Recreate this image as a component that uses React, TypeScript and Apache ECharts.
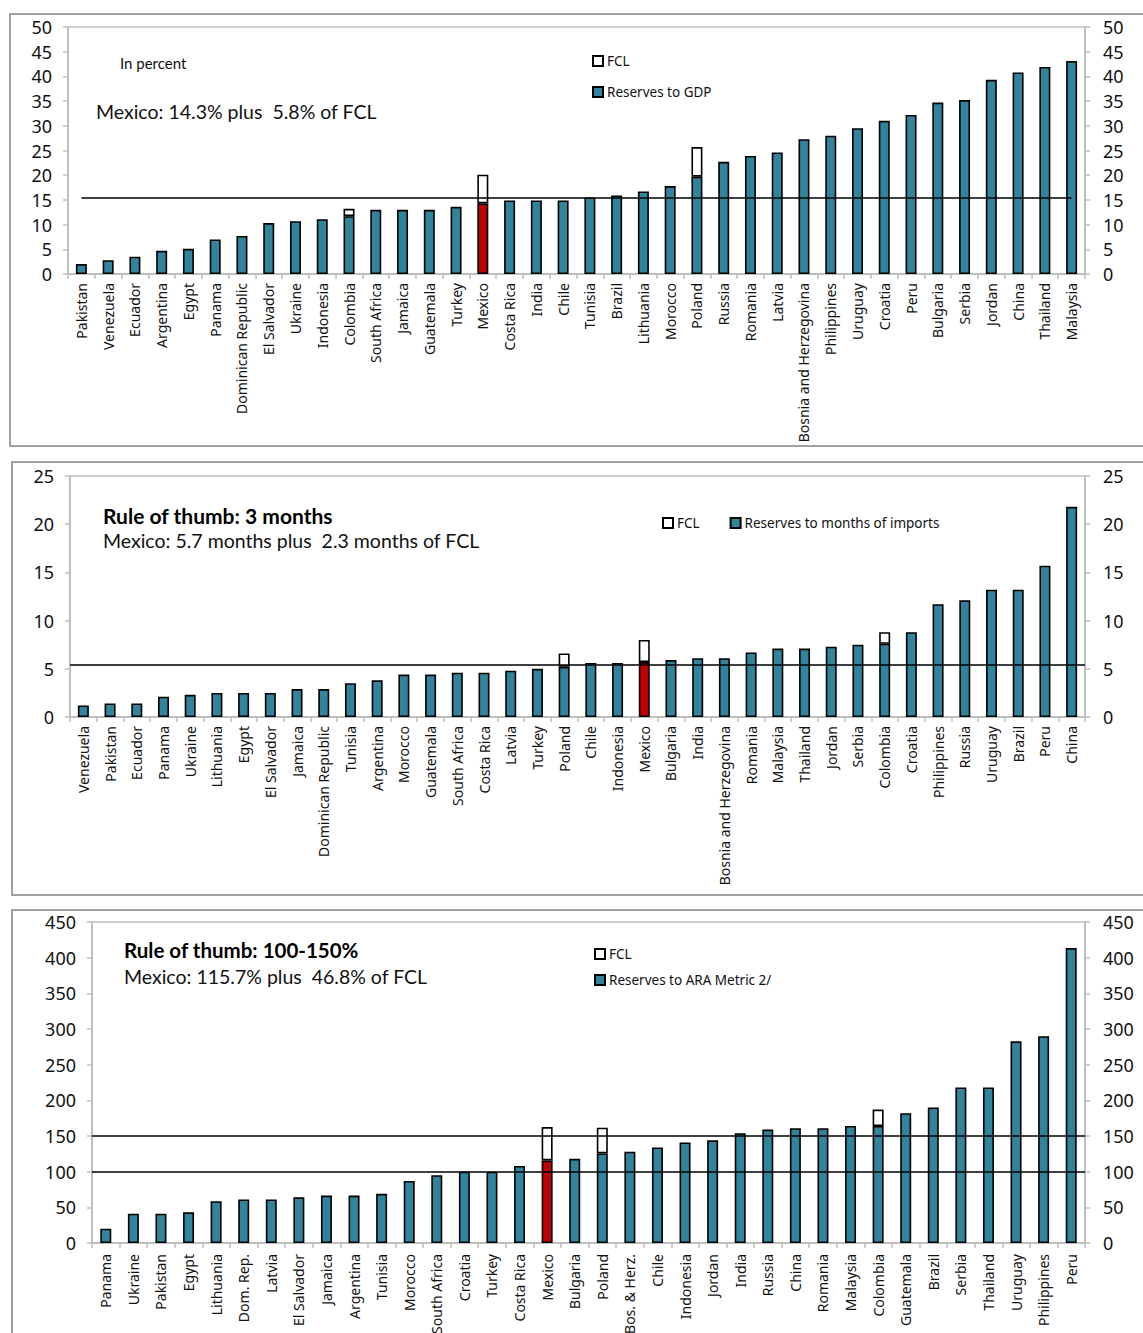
import React, { useEffect, useRef } from "react";
import * as echarts from "echarts";

// ---------- Panel 1: Reserves to GDP ----------
const gdpCountries = ["Pakistan","Venezuela","Ecuador","Argentina","Egypt","Panama","Dominican Republic","El Salvador","Ukraine","Indonesia","Colombia","South Africa","Jamaica","Guatemala","Turkey","Mexico","Costa Rica","India","Chile","Tunisia","Brazil","Lithuania","Morocco","Poland","Russia","Romania","Latvia","Bosnia and Herzegovina","Philippines","Uruguay","Croatia","Peru","Bulgaria","Serbia","Jordan","China","Thailand","Malaysia"];
const gdpReserves = [2.0,2.8,3.5,4.7,5.1,7.0,7.7,10.3,10.7,11.1,11.7,13.0,13.0,13.0,13.6,14.3,14.9,14.9,14.9,15.5,15.9,16.7,17.8,19.7,22.7,23.9,24.6,27.3,28.0,29.5,31.0,32.2,34.7,35.2,39.3,40.8,41.9,43.1];
const gdpFcl: [string, number][] = [["Colombia",1.5],["Mexico",5.8],["Poland",6.0]];
const gdpThreshold = 15.4;
const gdpTicks = { min: 0, max: 50, interval: 5 };

// ---------- Panel 2: Reserves to months of imports ----------
const impCountries = ["Venezuela","Pakistan","Ecuador","Panama","Ukraine","Lithuania","Egypt","El Salvador","Jamaica","Dominican Republic","Tunisia","Argentina","Morocco","Guatemala","South Africa","Costa Rica","Latvia","Turkey","Poland","Chile","Indonesia","Mexico","Bulgaria","India","Bosnia and Herzegovina","Romania","Malaysia","Thailand","Jordan","Serbia","Colombia","Croatia","Philippines","Russia","Uruguay","Brazil","Peru","China"];
const impReserves = [1.2,1.4,1.4,2.1,2.3,2.5,2.5,2.5,2.9,2.9,3.5,3.8,4.4,4.4,4.6,4.6,4.8,5.0,5.2,5.6,5.6,5.7,5.9,6.1,6.1,6.7,7.1,7.1,7.3,7.5,7.6,8.8,11.7,12.1,13.2,13.2,15.7,21.8];
const impFcl: [string, number][] = [["Poland",1.4],["Mexico",2.3],["Colombia",1.2]];
const impThreshold = 5.4;
const impTicks = { min: 0, max: 25, interval: 5 };

// ---------- Panel 3: Reserves to ARA metric ----------
const araCountries = ["Panama","Ukraine","Pakistan","Egypt","Lithuania","Dom. Rep.","Latvia","El Salvador","Jamaica","Argentina","Tunisia","Morocco","South Africa","Croatia","Turkey","Costa Rica","Mexico","Bulgaria","Poland","Bos. & Herz.","Chile","Indonesia","Jordan","India","Russia","China","Romania","Malaysia","Colombia","Guatemala","Brazil","Serbia","Thailand","Uruguay","Philippines","Peru"];
const araReserves = [20,41,41,43,58.6,61,61,64,66.5,66.5,69,87,95,100,100,108,115.7,118,125.6,128,134,141,144,154,159,161,161,164,164,182,190,218,218,282.7,290,413.5];
const araFcl: [string, number][] = [["Mexico",46.8],["Poland",36],["Colombia",23]];
const araThresholds = [100, 150];
const araTicks = { min: 0, max: 450, interval: 50 };

const TEAL = "#31849B";
const RED = "#C00000";
const AXIS_GRAY = "#BFBFBF";
const TXT = "Lato";
const SANS = "Noto Sans";

type PanelCfg = {
  idx: number;
  cats: string[];
  reserves: number[];
  fcl: [string, number][];
  ticks: { min: number; max: number; interval: number };
  resName: string;
  grid: { left: number; top: number; width: number; height: number };
  leftMargin: number;
  catMargin: number;
};

function buildPanel(p: PanelCfg, markLine: any) {
  const fclMap = new Map(p.fcl);
  const resData = p.cats.map((c, i) =>
    c === "Mexico" ? { value: p.reserves[i], itemStyle: { color: RED } } : p.reserves[i]
  );
  const fclData = p.cats.map((c) => (fclMap.has(c) ? fclMap.get(c)! : null));
  const yBase = (position: "left" | "right", margin: number) => ({
    type: "value",
    gridIndex: p.idx,
    position,
    min: p.ticks.min,
    max: p.ticks.max,
    interval: p.ticks.interval,
    axisLine: { show: true, lineStyle: { color: AXIS_GRAY, width: 2 } },
    axisTick: { show: true, length: 5, lineStyle: { color: AXIS_GRAY, width: 1.5 } },
    splitLine: { show: false },
    axisLabel: { color: "#111", fontSize: 18, fontFamily: SANS, margin },
  });
  return {
    grid: {
      ...p.grid,
      show: true,
      borderColor: AXIS_GRAY,
      borderWidth: 1.5,
      backgroundColor: "transparent",
      containLabel: false,
      outerBoundsMode: "none",
    },
    xAxis: {
      type: "category",
      gridIndex: p.idx,
      data: p.cats,
      boundaryGap: true,
      axisLine: { show: true, lineStyle: { color: AXIS_GRAY, width: 2 } },
      axisTick: { show: true, length: 5, alignWithLabel: false, lineStyle: { color: AXIS_GRAY, width: 1.5 } },
      axisLabel: { rotate: 90, interval: 0, fontSize: 14, fontFamily: SANS, color: "#111", margin: p.catMargin },
    },
    yAxes: [yBase("left", p.leftMargin), yBase("right", 18)],
    series: [
      {
        type: "bar",
        name: p.resName,
        xAxisIndex: p.idx,
        yAxisIndex: p.idx * 2,
        stack: "s" + p.idx,
        barWidth: 11,
        itemStyle: { color: TEAL, borderColor: "#000", borderWidth: 1.6 },
        data: resData,
        markLine,
        z: 2,
      },
      {
        type: "bar",
        name: "FCL",
        xAxisIndex: p.idx,
        yAxisIndex: p.idx * 2,
        stack: "s" + p.idx,
        barWidth: 11,
        itemStyle: { color: "#FFFFFF", borderColor: "#000", borderWidth: 1.6 },
        data: fclData,
        z: 2,
      },
    ],
  };
}

const lineStyle = { color: "#000", width: 1.6, type: "solid" };

export default function App() {
  const ref = useRef<HTMLDivElement>(null);
  useEffect(() => {
    if (!ref.current) return;
    const chart = echarts.init(ref.current, undefined, { renderer: "svg", width: 1143, height: 1333 });

    const p1 = buildPanel(
      {
        idx: 0, cats: gdpCountries, reserves: gdpReserves, fcl: gdpFcl, ticks: gdpTicks,
        resName: "Reserves to GDP", grid: { left: 68, top: 27, width: 1017, height: 247 }, leftMargin: 16, catMargin: 9,
      },
      {
        silent: true, symbol: "none", label: { show: false }, lineStyle,
        data: [[
          { coord: [gdpCountries[0], gdpThreshold] },
          { coord: [gdpCountries[gdpCountries.length - 1], gdpThreshold] },
        ]],
      }
    );
    const p2 = buildPanel(
      {
        idx: 1, cats: impCountries, reserves: impReserves, fcl: impFcl, ticks: impTicks,
        resName: "Reserves to months of imports", grid: { left: 70, top: 476, width: 1015, height: 241 }, leftMargin: 16, catMargin: 9,
      },
      { silent: true, symbol: "none", label: { show: false }, lineStyle, data: [{ yAxis: impThreshold }] }
    );
    const p3 = buildPanel(
      {
        idx: 2, cats: araCountries, reserves: araReserves, fcl: araFcl, ticks: araTicks,
        resName: "Reserves to ARA Metric 2/", grid: { left: 92, top: 922, width: 993, height: 321 }, leftMargin: 16, catMargin: 11,
      },
      { silent: true, symbol: "none", label: { show: false }, lineStyle, data: araThresholds.map((v) => ({ yAxis: v })) }
    );
    const panels = [p1, p2, p3];

    const legendBase = {
      icon: "rect",
      itemWidth: 10,
      itemHeight: 10,
      padding: 0,
      textStyle: { fontFamily: SANS, fontSize: 13.5, color: "#111", lineHeight: 14, padding: [0, 0, 0, -1] },
      selectedMode: false,
    };

    const borderStyle = { fill: "none", stroke: "#A0A0A0", lineWidth: 2 };

    chart.setOption({
      animation: false,
      backgroundColor: "#FFFFFF",
      grid: panels.map((p) => p.grid),
      xAxis: panels.map((p) => p.xAxis),
      yAxis: panels.flatMap((p) => p.yAxes),
      series: panels.flatMap((p) => p.series),
      legend: [
        { ...legendBase, orient: "vertical", left: 592, top: 54, itemGap: 17, data: ["FCL", "Reserves to GDP"] },
        { ...legendBase, orient: "horizontal", left: 662, top: 516, itemGap: 30, data: ["FCL", "Reserves to months of imports"] },
        { ...legendBase, orient: "vertical", left: 594, top: 947, itemGap: 12, data: ["FCL", "Reserves to ARA Metric 2/"] },
      ],
      graphic: [
        { type: "rect", shape: { x: 10, y: 14, width: 1160, height: 432 }, style: borderStyle, silent: true },
        { type: "rect", shape: { x: 12, y: 462, width: 1160, height: 433 }, style: borderStyle, silent: true },
        { type: "rect", shape: { x: 12, y: 910, width: 1160, height: 500 }, style: borderStyle, silent: true },
        { type: "text", x: 120, y: 63, style: { text: "In percent", font: `15px ${TXT}`, fill: "#111", textVerticalAlign: "middle" } },
        { type: "text", x: 96, y: 111, style: { text: "Mexico: 14.3% plus  5.8% of FCL", font: `19.5px ${TXT}`, fill: "#111", textVerticalAlign: "middle" } },
        { type: "text", x: 103, y: 515, style: { text: "Rule of thumb: 3 months", font: `bold 21px ${TXT}`, fill: "#000", textVerticalAlign: "middle" } },
        { type: "text", x: 103, y: 540, style: { text: "Mexico: 5.7 months plus  2.3 months of FCL", font: `19.5px ${TXT}`, fill: "#111", textVerticalAlign: "middle" } },
        { type: "text", x: 124, y: 950, style: { text: "Rule of thumb: 100-150%", font: `bold 20.5px ${TXT}`, fill: "#000", textVerticalAlign: "middle" } },
        { type: "text", x: 124, y: 976, style: { text: "Mexico: 115.7% plus  46.8% of FCL", font: `19.5px ${TXT}`, fill: "#111", textVerticalAlign: "middle" } },
      ],
    });
    return () => chart.dispose();
  }, []);

  return (
    <div style={{ position: "absolute", left: 0, top: 0, width: 1143, height: 1333, overflow: "hidden", background: "#fff" }}>
      <div ref={ref} style={{ width: 1143, height: 1333 }} />
    </div>
  );
}
